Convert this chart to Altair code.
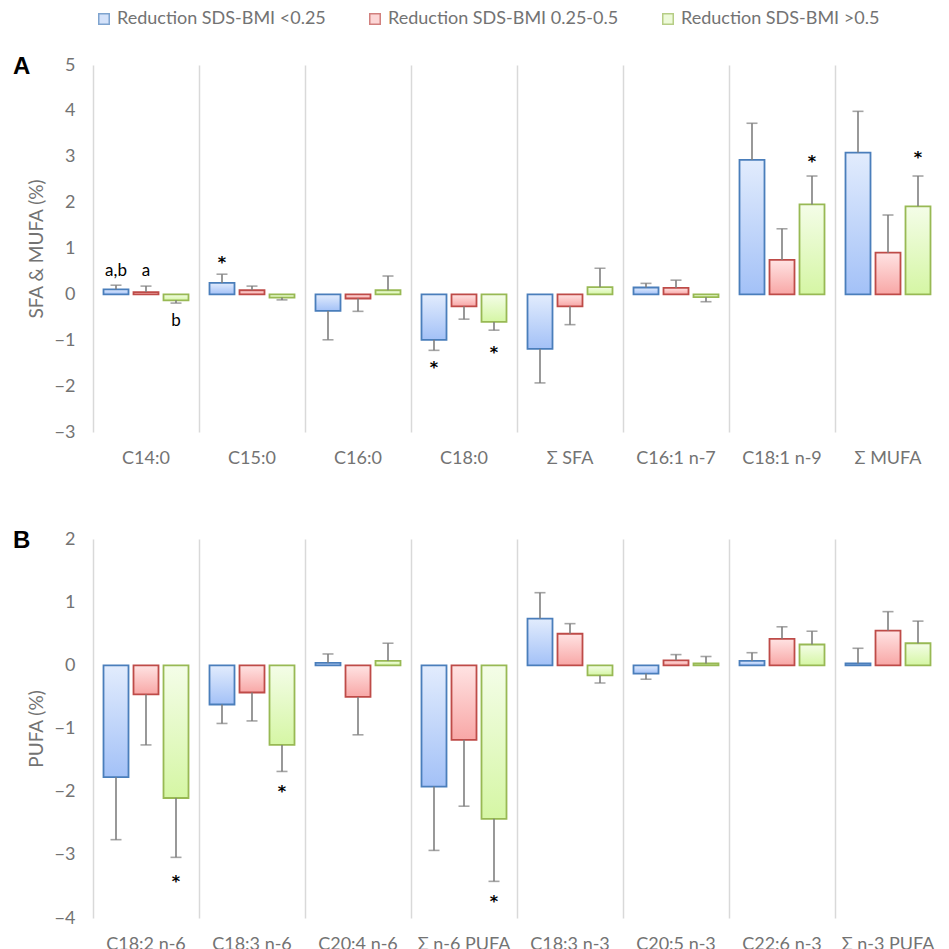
import altair as alt
import pandas as pd

series = ["Reduction SDS-BMI <0.25", "Reduction SDS-BMI 0.25-0.5", "Reduction SDS-BMI >0.5"]

# Panel A: SFA & MUFA
cats_a = ["C14:0", "C15:0", "C16:0", "C18:0", "Σ SFA", "C16:1 n-7", "C18:1 n-9", "Σ MUFA"]
a_low = [0.11, 0.25, -0.36, -0.99, -1.19, 0.15, 2.93, 3.09]
a_low_err = [0.09, 0.19, 0.63, 0.23, 0.74, 0.09, 0.80, 0.90]
a_mid = [0.05, 0.09, -0.09, -0.26, -0.26, 0.14, 0.75, 0.91]
a_mid_err = [0.13, 0.09, 0.28, 0.28, 0.40, 0.17, 0.68, 0.82]
a_high = [-0.13, -0.07, 0.09, -0.60, 0.16, -0.06, 1.96, 1.92]
a_high_err = [0.06, 0.05, 0.31, 0.18, 0.41, 0.10, 0.62, 0.66]

# Panel B: PUFA
cats_b = ["C18:2 n-6", "C18:3 n-6", "C20:4 n-6", "Σ n-6 PUFA", "C18:3 n-3", "C20:5 n-3", "C22:6 n-3", "Σ n-3 PUFA"]
b_low = [-1.77, -0.62, 0.04, -1.92, 0.74, -0.13, 0.07, 0.03]
b_low_err = [0.99, 0.30, 0.14, 1.01, 0.41, 0.09, 0.13, 0.24]
b_mid = [-0.46, -0.43, -0.50, -1.18, 0.50, 0.08, 0.42, 0.55]
b_mid_err = [0.80, 0.45, 0.60, 1.05, 0.16, 0.09, 0.19, 0.30]
b_high = [-2.10, -1.26, 0.07, -2.43, -0.16, 0.03, 0.33, 0.35]
b_high_err = [0.94, 0.42, 0.28, 0.99, 0.12, 0.11, 0.21, 0.35]

# Significance annotations: (category, series index, label, y position)
notes_a = [("C14:0", 0, "a,b", 0.52), ("C14:0", 1, "a", 0.52), ("C14:0", 2, "b", -0.58),
           ("C15:0", 0, "*", 0.76), ("C18:0", 0, "*", -1.55), ("C18:0", 2, "*", -1.21),
           ("C18:1 n-9", 2, "*", 2.96), ("Σ MUFA", 2, "*", 3.03)]
notes_b = [("C18:2 n-6", 2, "*", -3.38), ("C18:3 n-6", 2, "*", -1.95), ("Σ n-6 PUFA", 2, "*", -3.70)]

STROKES = ["#4a7ebb", "#be4b48", "#98b954"]
TOPS = ["#e2ecfd", "#ffe3e3", "#f4fde8"]
BOTTOMS = ["#a3c1f7", "#f8a7a6", "#d5f6a4"]
LEGEND_FILLS = ["#c3d7f9", "#fcc6c6", "#e6f8c9"]
GRID = "#d9d9d9"
LABEL = "#737373"
ERR = "#7f7f7f"


def build_df(cats, vals, errs):
    rows = []
    for si, s in enumerate(series):
        for ci, c in enumerate(cats):
            v = vals[si][ci]
            e = errs[si][ci]
            rows.append({"cat": c, "series": s, "value": v,
                         "err_end": v + e if v >= 0 else v - e})
    return pd.DataFrame(rows)


def panel(cats, vals, errs, ymin, ymax, height, ytitle, letter, notes, legend):
    df = build_df(cats, vals, errs)
    x_enc = alt.X("cat:N", sort=cats,
                  scale=alt.Scale(domain=cats, paddingInner=0, paddingOuter=0),
                  axis=alt.Axis(title=None, labelAngle=0, grid=True, bandPosition=0,
                                gridColor=GRID, gridWidth=1.5, ticks=False, domain=False,
                                labelPadding=17, labelFontSize=18, labelColor=LABEL))
    xo = alt.XOffset("series:N", sort=series,
                     scale=alt.Scale(domain=series, paddingInner=0.1667, paddingOuter=0.35))
    y_scale = alt.Scale(domain=[ymin, ymax], nice=False, zero=False)
    y_axis = alt.Axis(values=list(range(ymin, ymax + 1)), grid=False, domain=False,
                      ticks=False, tickSize=0, labelPadding=18, labelFontSize=18,
                      labelColor=LABEL, title=ytitle, titleFontSize=19, titleColor=LABEL,
                      titleFontWeight="normal", titlePadding=8)

    zero = alt.Chart(df).mark_rule(color=GRID, strokeWidth=2).encode(
        x=x_enc, y=alt.Y(datum=0, type="quantitative", scale=y_scale, axis=y_axis))

    layers = [zero]
    for i, s in enumerate(series):
        grad = {"gradient": "linear", "x1": 0, "y1": 0, "x2": 0, "y2": 1,
                "stops": [{"offset": 0, "color": TOPS[i]}, {"offset": 1, "color": BOTTOMS[i]}]}
        sub = alt.Chart(df).transform_filter(alt.FieldEqualPredicate(field="series", equal=s))
        layers.append(sub.mark_bar(fill=grad, stroke=STROKES[i], strokeWidth=1.8).encode(
            x=x_enc, xOffset=xo, y=alt.Y("value:Q", scale=y_scale, axis=y_axis)))

    base = alt.Chart(df)
    layers.append(base.mark_rule(color=ERR, strokeWidth=1.6).encode(
        x=x_enc, xOffset=xo, y=alt.Y("value:Q", scale=y_scale, axis=y_axis), y2="err_end:Q"))
    layers.append(base.mark_tick(color=ERR, orient="horizontal", size=11, thickness=1.6).encode(
        x=x_enc, xOffset=xo, y=alt.Y("err_end:Q", scale=y_scale, axis=y_axis)))

    ndf = pd.DataFrame([{"cat": c, "series": series[si], "label": t, "ypos": y}
                        for c, si, t, y in notes])
    letters = ndf[ndf["label"] != "*"]
    stars = ndf[ndf["label"] == "*"]
    if len(letters):
        layers.append(alt.Chart(letters).mark_text(fontSize=17, color="black", baseline="middle").encode(
            x=x_enc, xOffset=xo, y=alt.Y("ypos:Q", scale=y_scale, axis=y_axis), text="label:N"))
    if len(stars):
        layers.append(alt.Chart(stars).mark_text(fontSize=16, font="DejaVu Sans", fontWeight="bold",
                                                 color="black", baseline="middle", dy=3).encode(
            x=x_enc, xOffset=xo, y=alt.Y("ypos:Q", scale=y_scale, axis=y_axis), text="label:N"))

    if legend:
        leg = alt.Legend(orient="none", legendX=2, legendY=-55, direction="horizontal", title=None,
                         symbolType="square", symbolSize=110, symbolStrokeWidth=1.5,
                         labelFontSize=18, labelColor=LABEL, labelOffset=4, columnPadding=40,
                         labelLimit=400)
        layers.append(alt.Chart(df).transform_filter("datum.value > 1000").mark_square().encode(
            x=x_enc, xOffset=xo, y=alt.Y("value:Q", scale=y_scale, axis=y_axis),
            fill=alt.Fill("series:N", sort=series, scale=alt.Scale(domain=series, range=LEGEND_FILLS), legend=leg),
            stroke=alt.Stroke("series:N", sort=series, scale=alt.Scale(domain=series, range=STROKES), legend=leg)))

    return alt.layer(*layers).properties(
        width=848, height=height,
        title=alt.Title(letter, anchor="start", frame="group", dx=-80, dy=23, fontSize=24,
                        font="Liberation Sans", fontWeight="bold", color="black", offset=0))


pa = panel(cats_a, [a_low, a_mid, a_high], [a_low_err, a_mid_err, a_high_err],
           -3, 5, 367, "SFA & MUFA (%)", "A", notes_a, True)
pb = panel(cats_b, [b_low, b_mid, b_high], [b_low_err, b_mid_err, b_high_err],
           -4, 2, 379, "PUFA (%)", "B", notes_b, False)

chart = alt.vconcat(pa, pb, spacing=62).properties(
    padding={"left": 5, "top": 2, "right": 0, "bottom": 0}
).configure(font="Lato").configure_view(stroke=None)

chart.save("out.html", embed_options={"renderer": "svg", "actions": False})
